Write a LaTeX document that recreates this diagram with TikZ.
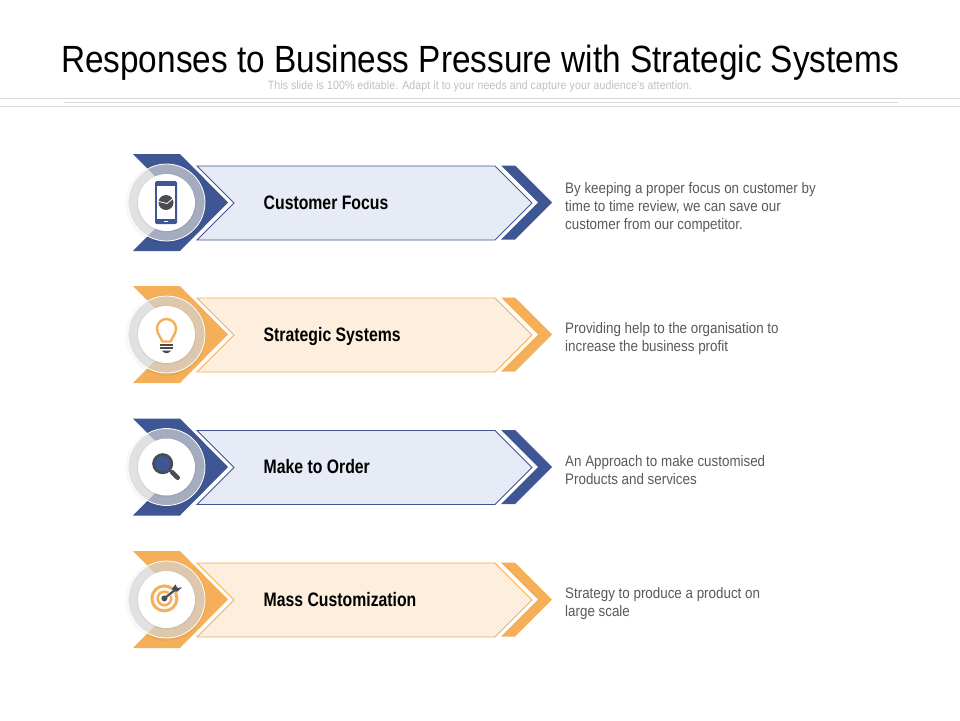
\documentclass[tikz,border=0pt]{standalone}
\usepackage{fontspec}
\setmainfont{Liberation Sans}
\newfontfamily\titlefont[FakeStretch=0.88]{Liberation Sans}
\newfontfamily\narrowfont[FakeStretch=0.88]{Liberation Sans}
\newfontfamily\labelfont[FakeStretch=0.81]{Liberation Sans Bold}
\definecolor{bluedark}{HTML}{3F5694}
\definecolor{bluelight}{HTML}{E7EBF6}
\definecolor{orangedark}{HTML}{F4AF58}
\definecolor{orangelight}{HTML}{FDEEDD}
\definecolor{icongray}{HTML}{4A4C50}
\definecolor{textgray}{HTML}{595959}
\definecolor{rulegray}{HTML}{D9D9D9}
\definecolor{ringgray}{HTML}{D7D7D7}
\tikzset{
  headline/.style={inner sep=0pt,font=\titlefont\fontsize{37.9}{38}\selectfont,text=black},
  subline/.style={inner sep=0pt,font=\narrowfont\fontsize{12}{12}\selectfont\addfontfeature{LetterSpace=0.9},text=black!25},
  rowlabel/.style={anchor=base west,inner sep=0pt,font=\labelfont\fontsize{19.5}{19.5}\selectfont,text=black},
  rownote/.style={anchor=west,inner sep=0pt,align=left,font=\narrowfont\fontsize{15.2}{18}\selectfont,text=textgray},
  hairline/.style={draw=rulegray,line width=0.8pt},
}
\begin{document}
\begin{tikzpicture}[x=1pt,y=-1pt]
\useasboundingbox (0,0) rectangle (960,720);
\node[headline] (title) at (480,62.5) {Responses to Business Pressure with Strategic Systems};
\node[subline] (subtitle) at (480,86) {This slide is 100\% editable. Adapt it to your needs and capture your audience's attention.};
\draw[hairline] (0,98.5) -- (960,98.5);
\draw[hairline] (64,102.5) -- (898,102.5);
\draw[hairline] (0,106.5) -- (960,106.5);
% the four rows
\foreach \rowy/\dark/\light/\rowname/\rowlabeltext/\noteshift/\rownotetext in {
  203/bluedark/bluelight/focus/Customer Focus/5/{By keeping a proper focus on customer by\\time to time review, we can save our\\customer from our competitor.},
  335/orangedark/orangelight/systems/Strategic Systems/4/{Providing help to the organisation to\\increase the business profit},
  467.5/bluedark/bluelight/order/Make to Order/2.5/{An Approach to make customised\\Products and services},
  600/orangedark/orangelight/mass/Mass Customization/4/{Strategy to produce a product on\\large scale}}
{
  \begin{scope}[shift={(0,\rowy)}]
    \fill[\dark] (133,-49) -- (180,-49) -- (228,-0.5) -- (180,48) -- (133,48) -- (181,-0.5) -- cycle;
    \draw[\dark,fill=\light,line width=0.8pt] (197,-37) -- (495,-37) -- (532,0) -- (495,37) -- (197,37) -- (234,0) -- cycle;
    \fill[\dark] (501,-37.5) -- (515,-37.5) -- (552,-0.5) -- (515,36.5) -- (501,36.5) -- (538,-0.5) -- cycle;
    % ring and disc
    \fill[black,opacity=0.03] (166,0.5) circle (40.5);
    \draw[white,fill=ringgray,fill opacity=0.68,line width=0.8pt] (166.5,-0.5) circle (38.5);
    \fill[black,opacity=0.05] (166.5,0) circle (29.5);
    \fill[white] (166.5,-0.5) circle (28.5);
    \node[rowlabel] (label-\rowname) at (263.5,6) {\rowlabeltext};
    \node[rownote] (note-\rowname) at (565,\noteshift) {\rownotetext};
  \end{scope}
}
% phone icon
\begin{scope}[shift={(166,202.5)}]
  \fill[bluedark,rounded corners=1.5pt] (-11,-21.5) rectangle (11,21.5);
  \fill[white] (-9,-16.5) rectangle (9,16.5);
  \fill[icongray] (0,0) circle (7.5);
  \draw[white,line width=0.8pt] (-7,-1) -- (1,1) -- (7,-4);
  \draw[white,line width=0.5pt] (-2,19) -- (2,19);
\end{scope}
% bulb icon
\begin{scope}[shift={(166.5,335)}]
  \draw[orangedark,line width=2.4pt,line join=round] (-4.5,6.5) .. controls (-5,2) and (-9.5,0) .. (-9.5,-6.5) arc[start angle=180,end angle=360,radius=9.5] .. controls (9.5,0) and (5,2) .. (4.5,6.5) -- cycle;
  \fill[icongray] (-6.5,8.5) rectangle (6.5,10.5);
  \fill[icongray] (-6.5,12) rectangle (6.5,14);
  \fill[icongray] (-5,15.5) -- (5,15.5) -- (1.5,18) -- (-1.5,18) -- cycle;
\end{scope}
% magnifier icon
\begin{scope}[shift={(162.7,463.7)}]
  \draw[icongray,fill=bluedark,line width=2.6pt] (0,0) circle (9.2);
  \draw[icongray,line width=1.8pt] (7,7) -- (10,10);
  \draw[icongray,line width=4.6pt,line cap=round] (9.5,8.5) -- (15,14);
\end{scope}
% target icon
\begin{scope}[shift={(164.4,598.4)}]
  \draw[orangedark,line width=3pt] (0,0) circle (12.5);
  \draw[orangedark,line width=2.6pt] (0,0) circle (6.8);
  \draw[white,line width=3.6pt] (0,0) -- (12,-9.5);
  \draw[icongray,line width=2.2pt] (0,0) -- (10,-8);
  \fill[icongray] (0,0) circle (3);
  \fill[icongray] (7.5,-9.5) -- (11,-14) -- (13,-10.5) -- (17.5,-11) -- (13,-6.7) -- (9.5,-7) -- cycle;
\end{scope}
\end{tikzpicture}
\end{document}
